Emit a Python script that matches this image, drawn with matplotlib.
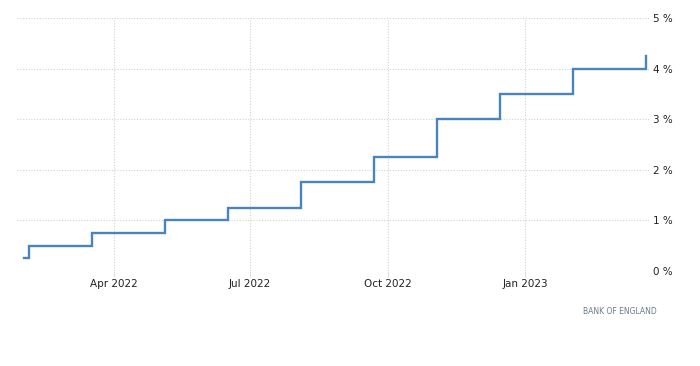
import numpy as np
import pandas as pd
import matplotlib
matplotlib.use('Agg')
import matplotlib.pyplot as plt
import matplotlib.dates as mdates

# Bank Rate decisions (effective dates) and levels, %
dates = ['2022-01-31', '2022-02-03', '2022-03-17', '2022-05-05', '2022-06-16',
         '2022-08-04', '2022-09-22', '2022-11-03', '2022-12-15', '2023-02-02',
         '2023-03-23']
rates = [0.25, 0.50, 0.75, 1.00, 1.25, 1.75, 2.25, 3.00, 3.50, 4.00, 4.25]
y_ticks = [0, 1, 2, 3, 4, 5]
x_ticks = ['2022-04-01', '2022-07-01', '2022-10-01', '2023-01-01']

d = pd.to_datetime(dates)

fig = plt.figure(figsize=(7, 3.66), dpi=100)
ax = fig.add_axes([17/700, 1-271/366, (649-17)/700, (271-18)/366])

ax.step(d, rates, where='post', color='#4a84bc', lw=1.7, solid_joinstyle='miter')

ax.set_xlim(pd.Timestamp('2022-01-26'), pd.Timestamp('2023-03-25'))
ax.set_ylim(0, 5)
ax.set_yticks(y_ticks)
ax.set_yticklabels([f'{v} %' for v in y_ticks])
ax.set_xticks(pd.to_datetime(x_ticks))
ax.xaxis.set_major_formatter(mdates.DateFormatter('%b %Y'))

ax.yaxis.tick_right()
ax.tick_params(axis='y', length=0, pad=3, labelsize=7.5, colors='#222222')
ax.tick_params(axis='x', length=4, color='#dddddd', pad=2, labelsize=7.5, colors='#222222')
ax.grid(True, color='#d2d2d2', linestyle=(0, (1, 1.5)), lw=0.8)
for s in ax.spines.values():
    s.set_visible(False)

fig.text(657/700, 1-312/366, 'BANK OF ENGLAND', ha='right', va='center',
         fontsize=5.5, color='#6a7a8a')

fig.savefig('out.png', dpi=100)
